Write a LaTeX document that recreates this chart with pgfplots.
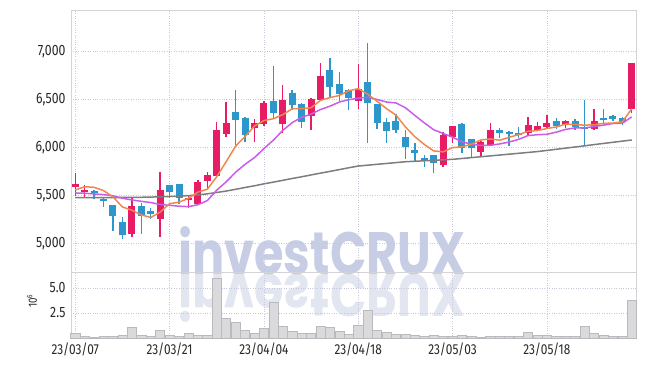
\documentclass[border=0pt]{standalone}
\usepackage{fontspec}
\setmainfont{Fira Sans}[FakeStretch=0.82]
\newfontfamily\wmfont{Poppins}[FakeStretch=0.8]
\usepackage{pgfplots}
\pgfplotsset{compat=1.18}
\usepackage{pgfplotstable}

\definecolor{upc}{RGB}{232,28,100}
\definecolor{dnc}{RGB}{45,150,202}
\definecolor{maA}{RGB}{240,135,78}
\definecolor{maB}{RGB}{202,92,232}
\definecolor{maC}{RGB}{125,125,125}
\definecolor{gridc}{RGB}{200,200,218}
\definecolor{framec}{RGB}{212,212,216}
\definecolor{wm}{RGB}{198,205,228}
\definecolor{volf}{RGB}{218,218,220}
\definecolor{vold}{RGB}{185,185,190}
\definecolor{txt}{RGB}{40,40,40}

% up (red) candles
\pgfplotstableread{
i O H L C
0 5590 5730 5490 5620
1 5530 5610 5480 5560
6 5100 5475 5070 5390
9 5250 5740 5070 5560
12 5450 5495 5365 5475
13 5405 5660 5400 5635
14 5655 5740 5575 5710
15 5705 6270 5680 6180
16 6140 6470 6105 6260
19 6205 6300 6060 6260
20 6245 6490 6225 6465
22 6250 6650 6155 6495
25 6330 6515 6180 6505
26 6500 6880 6480 6745
30 6490 6870 6400 6615
39 5815 6160 5800 6130
40 6105 6225 6045 6220
43 5955 6065 5905 6060
44 6025 6260 6020 6185
48 6150 6315 6120 6235
49 6185 6265 6170 6225
50 6210 6340 6200 6260
52 6245 6285 6200 6280
55 6195 6400 6185 6280
59 6400 6885 6355 6880
}\up

% down (blue) candles
\pgfplotstableread{
i O H L C
2 5540 5560 5460 5525
3 5445 5470 5380 5440
4 5400 5400 5130 5280
5 5220 5270 5040 5090
7 5390 5420 5100 5280
8 5335 5370 5250 5305
10 5610 5610 5475 5530
11 5620 5620 5415 5470
17 6365 6595 6025 6285
18 6310 6315 6060 6135
21 6485 6850 6305 6355
23 6570 6600 6390 6445
24 6455 6465 6200 6270
27 6810 6930 6530 6635
28 6660 6790 6480 6560
29 6605 6610 6390 6515
31 6685 7090 6045 6460
32 6455 6455 6190 6260
33 6270 6305 6050 6175
34 6280 6345 6150 6180
35 6110 6180 5875 6000
36 5975 6045 5850 5945
37 5895 5920 5800 5860
38 5920 5925 5730 5835
41 6250 6252 5940 5990
42 6085 6090 5905 5990
45 6185 6200 6096 6155
46 6160 6175 6015 6140
47 6150 6218 6096 6130
51 6280 6305 6190 6220
53 6280 6295 6185 6210
54 6210 6495 6025 6195
56 6310 6400 6245 6290
57 6330 6335 6280 6300
58 6310 6315 6230 6270
}\dn

% moving averages (5, 10, 60 days) and volume (millions)
\pgfplotstableread{
i m5 m10 m60 V
0 5556 5525 5476 0.43
1 5590 5522 5476 0.17
2 5584 5515 5476 0.08
3 5550 5508 5476 0.13
4 5485 5495 5477 0.13
5 5379 5470 5478 0.23
6 5345 5452 5479 1.10
7 5296 5438 5480 0.23
8 5269 5425 5482 0.17
9 5325 5405 5485 0.73
10 5413 5396 5488 0.23
11 5429 5387 5492 0.13
12 5468 5382 5497 0.43
13 5534 5402 5504 0.23
14 5564 5445 5516 0.23
15 5694 5554 5530 5.93
16 5852 5641 5545 1.93
17 6014 5741 5563 1.53
18 6114 5824 5582 0.73
19 6224 5894 5600 0.43
20 6281 5988 5620 0.93
21 6300 6076 5638 3.53
22 6342 6178 5657 1.13
23 6404 6259 5676 0.67
24 6406 6315 5694 0.43
25 6414 6348 5713 0.43
26 6492 6396 5732 1.13
27 6520 6431 5750 1.03
28 6543 6474 5769 0.67
29 6592 6499 5788 0.37
30 6614 6514 5806 1.23
31 6557 6525 5815 2.77
32 6482 6501 5824 0.77
33 6405 6474 5833 0.53
34 6338 6465 5842 0.37
35 6215 6415 5851 0.37
36 6112 6335 5856 0.23
37 6032 6257 5861 0.13
38 5964 6185 5866 0.23
39 5954 6146 5871 0.13
40 5998 6107 5876 0.13
41 6007 6060 5885 0.23
42 6033 6033 5894 0.17
43 6078 6021 5903 0.10
44 6089 6022 5912 0.17
45 6076 6037 5921 0.13
46 6106 6057 5930 0.13
47 6134 6084 5939 0.13
48 6169 6124 5948 0.53
49 6177 6133 5957 0.23
50 6198 6137 5969 0.23
51 6214 6160 5981 0.13
52 6244 6189 5993 0.13
53 6239 6204 6005 0.13
54 6233 6205 6017 1.13
55 6237 6218 6030 0.47
56 6251 6233 6042 0.27
57 6255 6250 6054 0.13
58 6267 6253 6066 0.13
59 6404 6319 6078 3.73
}\ma

\begin{document}
\begin{tikzpicture}
\useasboundingbox (0,0) rectangle (645bp,366bp);

% watermark
\node[anchor=base west, inner sep=0, text=wm, font=\wmfont\bfseries\fontsize{60}{60}\selectfont] at (178bp,91bp) {investCRUX};
\node[anchor=base west, inner sep=0, yscale=-1, opacity=0.5, text=wm, font=\wmfont\bfseries\fontsize{60}{60}\selectfont] at (178bp,91bp) {investCRUX};

\begin{axis}[
  at={(71bp,94bp)}, anchor=south west, scale only axis,
  width=565bp, height=262bp,
  xmin=-0.45, xmax=59.45, ymin=4700, ymax=7435,
  ytick={5000,5500,6000,6500,7000},
  xtick={0,10,20,30,40,50}, xticklabels={},
  grid=major, major grid style={gridc, dotted, line width=0.7bp},
  axis line style={framec, line width=0.7bp},
  major tick length=0pt,
  /pgf/number format/assume math mode=true,
  yticklabel style={font=\fontsize{15}{15}\selectfont, text=txt, xshift=-2bp},
  clip=true,
]
% wicks
\addplot[draw=none, mark=none, forget plot,
  error bars/.cd, y dir=plus, y explicit, error mark=none,
  error bar style={draw=upc, line width=1.4bp}]
  table[x=i, y=L, y error expr=\thisrow{H}-\thisrow{L}] {\up};
\addplot[draw=none, mark=none, forget plot,
  error bars/.cd, y dir=plus, y explicit, error mark=none,
  error bar style={draw=dnc, line width=1.4bp}]
  table[x=i, y=L, y error expr=\thisrow{H}-\thisrow{L}] {\dn};
% bodies
\addplot[draw=none, mark=none, forget plot,
  error bars/.cd, y dir=plus, y explicit, error mark=none,
  error bar style={draw=upc, line width=7bp}]
  table[x=i, y expr={min(\thisrow{O},\thisrow{C})}, y error expr={max(abs(\thisrow{C}-\thisrow{O}),20)}] {\up};
\addplot[draw=none, mark=none, forget plot,
  error bars/.cd, y dir=plus, y explicit, error mark=none,
  error bar style={draw=dnc, line width=7bp}]
  table[x=i, y expr={min(\thisrow{O},\thisrow{C})}, y error expr={max(abs(\thisrow{C}-\thisrow{O}),20)}] {\dn};
% moving averages
\addplot[maC, line width=1.5bp, line join=round, mark=none] table[x=i, y=m60] {\ma};
\addplot[maB, line width=1.5bp, line join=round, mark=none] table[x=i, y=m10] {\ma};
\addplot[maA, line width=1.5bp, line join=round, mark=none] table[x=i, y=m5] {\ma};
\end{axis}

\begin{axis}[
  at={(71bp,28bp)}, anchor=south west, scale only axis,
  width=565bp, height=66bp,
  xmin=-0.45, xmax=59.45, ymin=0, ymax=6.6,
  ytick={2.5,5},
  xtick={0,10,20,30,40,50},
  xticklabels={23/03/07,23/03/21,23/04/04,23/04/18,23/05/03,23/05/18},
  grid=major, major grid style={gridc, dotted, line width=0.7bp},
  axis line style={draw=none},
  major tick length=0pt,
  /pgf/number format/assume math mode=true,
  yticklabel style={font=\fontsize{15}{15}\selectfont, text=txt, xshift=-2bp,
    /pgf/number format/.cd, fixed, fixed zerofill, precision=1},
  xticklabel style={font=\fontsize{14.5}{14.5}\selectfont, text=txt, yshift=-1bp},
  clip=false,
]
\draw[framec, line width=0.7bp] (rel axis cs:0,0) -- (rel axis cs:0,1) -- (rel axis cs:1,1) -- (rel axis cs:1,0);
\addplot[ybar, bar width=0.97, fill=volf, draw=vold, line width=0.5bp] table[x=i, y=V] {\ma};
\end{axis}

\node[rotate=90, text=txt, font=\fontsize{12}{12}\selectfont] at (32bp,65bp) {10\textsuperscript{6}};
\end{tikzpicture}
\end{document}
